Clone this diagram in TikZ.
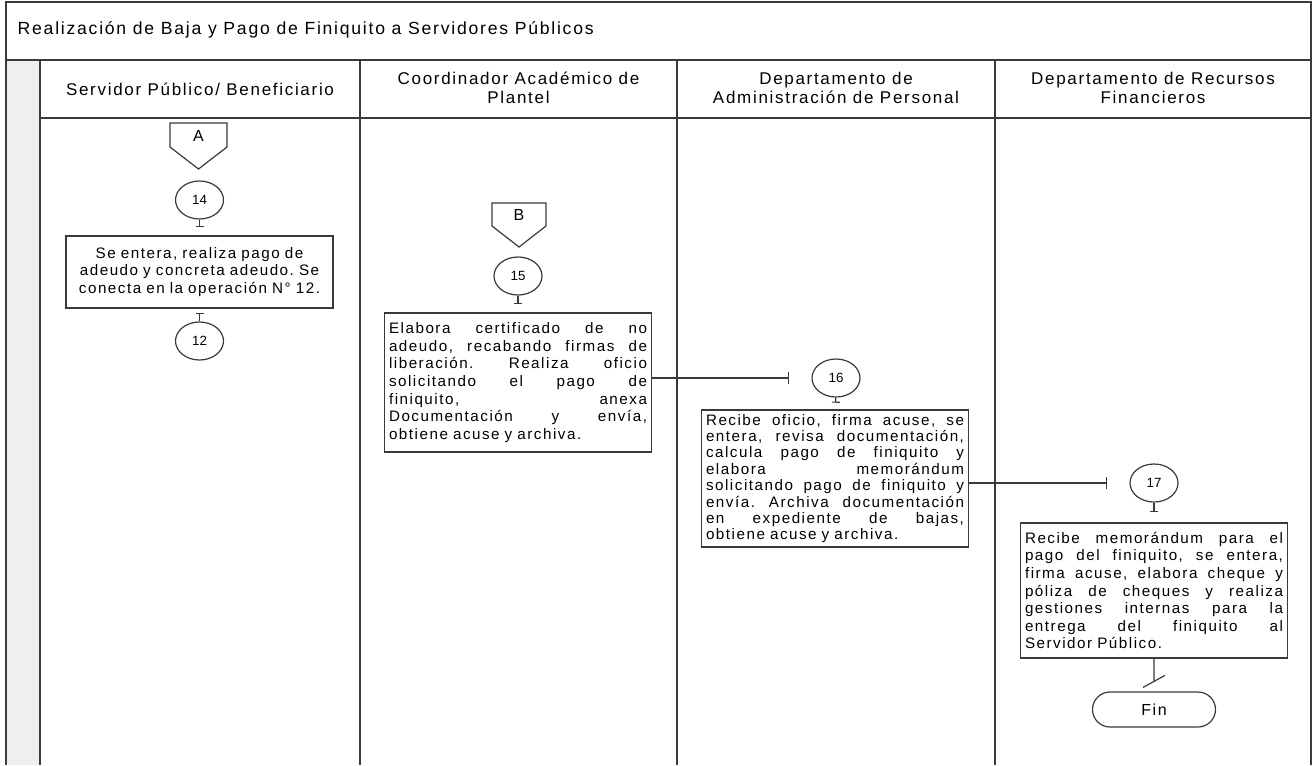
\documentclass[tikz,border=0pt]{standalone}
\usepackage{fontspec}
\setmainfont{Liberation Sans}[LetterSpace=10]
\newfontfamily\numfont{Liberation Sans}
\usetikzlibrary{shapes.geometric,shapes.misc,arrows.meta,calc}
\setlength\parindent{0pt}
\frenchspacing
\definecolor{ln}{HTML}{3A3A3A}
\definecolor{strip}{HTML}{EFEFEF}
\newcommand\jl[1]{\makebox[\hsize][s]{\spaceskip=0pt\xspaceskip=0pt #1}}
\begin{document}
\begin{tikzpicture}[x=0.75pt,y=-0.75pt,
  lane/.style={draw=ln, line width=0.9pt},
  flow/.style={draw=ln, line width=0.9pt},
  tee/.style={flow, -{Bar[width=#1, line width=0.9pt]}},
  tee/.default=6pt,
  proc/.style={draw=ln, line width=0.9pt, rectangle, inner xsep=3.4pt, inner ysep=2pt,
    text width=193.5pt, minimum width=200.25pt, font=\fontsize{11.4}{13.2}\selectfont, align=left},
  conn/.style={draw=ln, line width=0.9pt, ellipse, minimum width=36pt, minimum height=28.5pt,
    inner sep=0pt, font=\numfont\fontsize{10}{11}\selectfont},
  hdr/.style={font=\fontsize{12.75}{14.25}\selectfont, align=center},
  lbl/.style={font=\fontsize{12}{13}\selectfont},
  offpage/.style={flow, fill=white},
]
\useasboundingbox (0,0) rectangle (1313,765);
% lanes
\fill[strip] (6,60) rectangle (40,765);
\draw[lane] (6,765) -- (6,2) -- (1311,2) -- (1311,765);
\draw[lane] (6,60) -- (1311,60);
\draw[lane] (40,118) -- (1311,118);
\draw[lane, line width=1.3pt] (6,60) -- (6,765);
\draw[lane, line width=1.3pt] (40,60) -- (40,765);
\foreach \x in {360,677,995} \draw[lane] (\x,60) -- (\x,765);
% title and headers
\node[anchor=west, font=\fontsize{13.2}{14}\selectfont] (title) at (13,30) {Realización de Baja y Pago de Finiquito a Servidores Públicos};
\node[hdr] (h1) at (200,89) {Servidor Público/ Beneficiario};
\node[hdr] (h2) at (518.5,88) {Coordinador Académico de\\Plantel};
\node[hdr] (h3) at (836,88) {Departamento de\\Administración de Personal};
\node[hdr] (h4) at (1153,88) {Departamento de Recursos\\Financieros};
% off-page connectors
\draw[offpage] (170,123) -- (227,123) -- (227,147) -- (198.5,169) -- (170,147) -- cycle;
\node[lbl] (A) at (198.5,136) {A};
\draw[offpage] (492,203) -- (546,203) -- (546,226) -- (519,247) -- (492,226) -- cycle;
\node[lbl] (B) at (519,215) {B};
% lane 1
\node[conn] (c14) at (199.5,200) {14};
\node[proc, align=center, minimum height=54pt] (b14) at (199.5,272)
  {Se entera, realiza pago de\\adeudo y concreta adeudo. Se\\conecta en la operación N° 12.};
\node[conn] (c12) at (199.5,341) {12};
% lane 2
\node[conn] (c15) at (518,276) {15};
\node[proc, minimum height=104.25pt] (b15) at (518,382.5)
  {\jl{Elabora certificado de no}\\
   \jl{adeudo, recabando firmas de}\\
   \jl{liberación. Realiza oficio}\\
   \jl{solicitando el pago de}\\
   \jl{finiquito, anexa}\\
   \jl{Documentación y envía,}\\
   obtiene acuse y archiva.};
% lane 3
\node[conn] (c16) at (836,378) {16};
\node[proc, minimum height=102.75pt, inner ysep=1.5pt, font=\fontsize{11.4}{12.3}\selectfont] (b16) at (835,478.5)
  {\jl{Recibe oficio, firma acuse, se}\\
   \jl{entera, revisa documentación,}\\
   \jl{calcula pago de finiquito y}\\
   \jl{elabora memorándum}\\
   \jl{solicitando pago de finiquito y}\\
   \jl{envía. Archiva documentación}\\
   \jl{en expediente de bajas,}\\
   obtiene acuse y archiva.};
% lane 4
\node[conn] (c17) at (1154,483) {17};
\node[proc, minimum height=101.25pt] (b17) at (1154,590.5)
  {\jl{Recibe memorándum para el}\\
   \jl{pago del finiquito, se entera,}\\
   \jl{firma acuse, elabora cheque y}\\
   \jl{póliza de cheques y realiza}\\
   \jl{gestiones internas para la}\\
   \jl{entrega del finiquito al}\\
   Servidor Público.};
\node[draw=ln, line width=0.9pt, rounded rectangle, minimum width=92.25pt, minimum height=26.25pt,
  inner sep=0pt, lbl] (fin) at (1154,709.5) {Fin};
% connectors
\draw[tee, shorten >=6pt] (c14) -- (b14);
\draw[flow, {Bar[width=6pt, line width=0.9pt]}-, shorten <=3pt] (b14) -- (c12);
\draw[tee, shorten >=6pt] (c15) -- (b15);
\draw[tee, shorten >=5pt] (c16) -- (b16);
\draw[tee, shorten >=8pt] (c17) -- (b17);
\draw[tee=9pt, shorten >=17pt] (b15.east |- c16) -- (c16);
\draw[tee=9pt, shorten >=16.5pt] (b16.east |- c17) -- (c17);
\draw[flow, shorten >=7.5pt] (b17) -- (fin);
\draw[flow] ($(fin.north)+(-11,-4)$) -- ($(fin.north)+(11,-16)$);
\end{tikzpicture}
\end{document}
